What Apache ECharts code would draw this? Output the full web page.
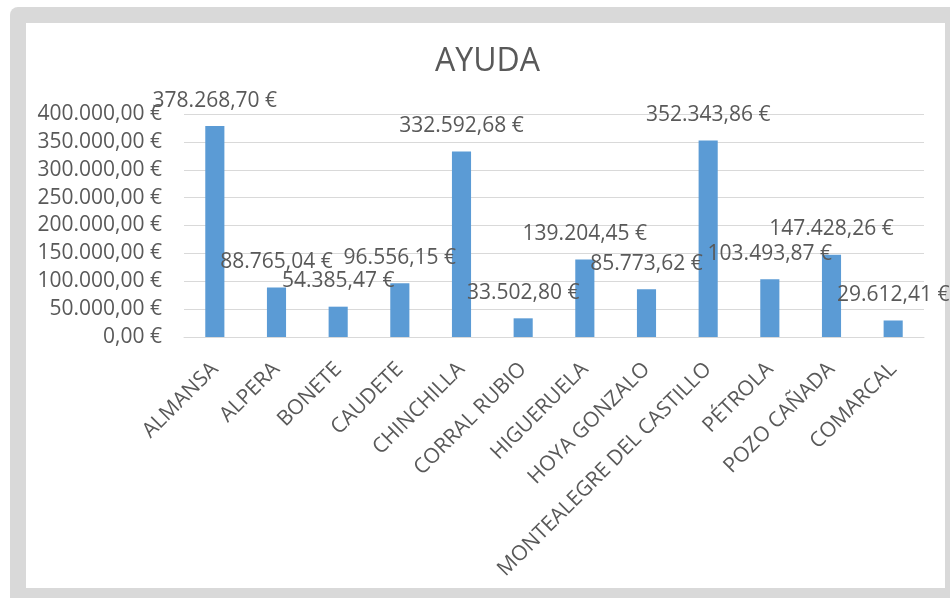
<!DOCTYPE html>
<html>
<head>
<meta charset="utf-8">
<script src="https://cdn.jsdelivr.net/npm/echarts@6/dist/echarts.min.js"></script>
<style>
  html, body { margin:0; padding:0; background:#fff; width:950px; height:598px; overflow:hidden; }
  #frame { position:absolute; left:10px; top:7px; width:950px; height:600px; background:#D9D9D9; border-radius:8px; }
  #inner { position:absolute; left:26px; top:23px; width:919px; height:565px; background:#fff; }
  #chart { position:absolute; left:0; top:0; width:950px; height:598px; }
</style>
</head>
<body>
<div id="frame"></div>
<div id="inner"></div>
<div id="chart"></div>
<script>
const titleText = 'AYUDA';
const categories = ['ALMANSA','ALPERA','BONETE','CAUDETE','CHINCHILLA','CORRAL RUBIO','HIGUERUELA','HOYA GONZALO','MONTEALEGRE DEL CASTILLO','PÉTROLA','POZO CAÑADA','COMARCAL'];
const ayuda = [378268.70, 88765.04, 54385.47, 96556.15, 332592.68, 33502.80, 139204.45, 85773.62, 352343.86, 103493.87, 147428.26, 29612.41];
const yMin = 0, yMax = 400000, yStep = 50000;

function fmt(v) {
  const s = Number(v).toFixed(2);
  const parts = s.split('.');
  return parts[0].replace(/\B(?=(\d{3})+(?!\d))/g, '.') + ',' + parts[1] + ' €';
}

const txt = '#595959';
const font = '"Open Sans", "DejaVu Sans", sans-serif';
const chart = echarts.init(document.getElementById('chart'), null, {renderer:'canvas'});
chart.setOption({
  backgroundColor: 'transparent',
  animation: false,
  textStyle: { fontFamily: font },
  title: {
    text: titleText,
    left: 430, top: 41,
    textStyle: { fontSize: 32, fontWeight: 'normal', color: txt, fontFamily: font }
  },
  grid: { left: 184, right: 26, top: 114, bottom: 261, containLabel: false },
  xAxis: {
    type: 'category',
    data: categories,
    axisLine: { lineStyle: { color: '#D9D9D9', width: 1 } },
    axisTick: { show: false },
    axisLabel: { rotate: 45, margin: 29, interval: 0, fontSize: 21, color: txt, fontFamily: font }
  },
  yAxis: {
    type: 'value',
    min: yMin, max: yMax, interval: yStep,
    axisLine: { show: false },
    axisTick: { show: false },
    splitLine: { lineStyle: { color: '#D9D9D9', width: 1 } },
    axisLabel: { margin: 22, fontSize: 21, color: txt, fontFamily: font, formatter: fmt }
  },
  series: [{
    type: 'bar',
    data: ayuda,
    barWidth: '31%',
    itemStyle: { color: '#5B9BD5' },
    label: {
      show: true, position: 'top', distance: 15,
      fontSize: 21, color: txt, fontFamily: font,
      formatter: p => fmt(p.value)
    }
  }]
});
</script>
</body>
</html>
